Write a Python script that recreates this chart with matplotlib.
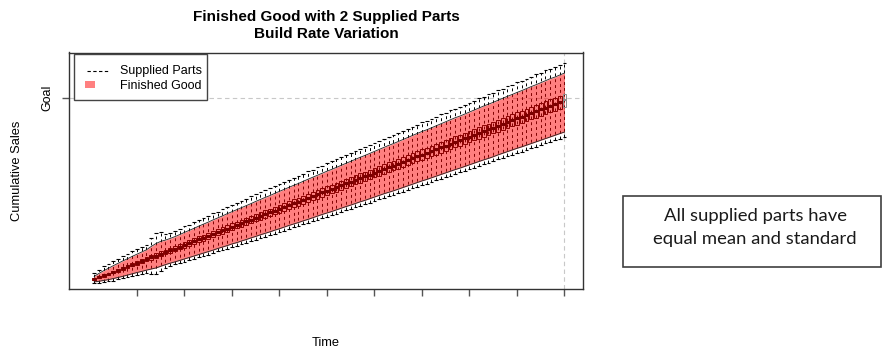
import numpy as np
import matplotlib
matplotlib.use("Agg")
import matplotlib.pyplot as plt
from matplotlib.patches import Rectangle
from matplotlib.lines import Line2D

plt.rcParams['font.family'] = ['Liberation Sans', 'DejaVu Sans']

# ---------------- data ----------------
time = list(range(1, 101))
goal = 100
x_ticks = [10, 20, 30, 40, 50, 60, 70, 80, 90, 100]

# Finished good: median cumulative sales per period
fg_median = [1.0, 2.0, 3.0, 3.9, 4.9, 5.9, 6.9, 7.9, 8.9, 9.9,
             10.8, 11.8, 12.8, 13.8, 14.8, 15.8, 16.8, 17.7, 18.7, 19.7,
             20.7, 21.7, 22.7, 23.6, 24.6, 25.6, 26.6, 27.6, 28.6, 29.6,
             30.5, 31.5, 32.5, 33.5, 34.5, 35.5, 36.5, 37.4, 38.4, 39.4,
             40.4, 41.4, 42.4, 43.3, 44.3, 45.3, 46.3, 47.3, 48.3, 49.3,
             50.2, 51.2, 52.2, 53.2, 54.2, 55.2, 56.2, 57.1, 58.1, 59.1,
             60.1, 61.1, 62.1, 63.0, 64.0, 65.0, 66.0, 67.0, 68.0, 69.0,
             69.9, 70.9, 71.9, 72.9, 73.9, 74.9, 75.9, 76.8, 77.8, 78.8,
             79.8, 80.8, 81.8, 82.7, 83.7, 84.7, 85.7, 86.7, 87.7, 88.7,
             89.6, 90.6, 91.6, 92.6, 93.6, 94.6, 95.6, 96.5, 97.5, 98.5]

# Finished good: half of the box (inter-quartile) height
fg_box_half = [0.4, 0.5, 0.6, 0.7, 0.75, 0.8, 0.85, 0.95, 1.0, 1.05,
               1.1, 1.15, 1.2, 1.25, 1.3, 1.3, 1.35, 1.4, 1.45, 1.5,
               1.5, 1.55, 1.6, 1.6, 1.65, 1.7, 1.7, 1.75, 1.8, 1.8,
               1.85, 1.85, 1.9, 1.9, 1.95, 2.0, 2.0, 2.05, 2.05, 2.1,
               2.1, 2.15, 2.15, 2.2, 2.2, 2.25, 2.25, 2.3, 2.3, 2.35,
               2.35, 2.4, 2.4, 2.45, 2.45, 2.5, 2.5, 2.55, 2.55, 2.6,
               2.6, 2.65, 2.65, 2.7, 2.7, 2.75, 2.75, 2.8, 2.8, 2.85,
               2.85, 2.9, 2.9, 2.95, 2.95, 3.0, 3.0, 3.05, 3.05, 3.1,
               3.1, 3.15, 3.15, 3.2, 3.2, 3.25, 3.25, 3.3, 3.3, 3.35,
               3.35, 3.4, 3.4, 3.4, 3.45, 3.45, 3.5, 3.5, 3.5, 3.5]

# Finished good: band reach above / below the median
fg_upper_spread = [1.5, 2.1, 2.6, 3.0, 3.4, 3.7, 4.0, 4.2, 4.5, 4.7,
                   5.0, 5.2, 6.0, 6.6, 6.8, 6.5, 6.4, 6.5, 6.6, 6.8,
                   6.9, 7.0, 7.2, 7.4, 7.5, 7.7, 7.8, 7.9, 8.1, 8.2,
                   8.4, 8.5, 8.6, 8.7, 8.9, 9.0, 9.1, 9.2, 9.4, 9.5,
                   9.6, 9.7, 9.8, 9.9, 10.1, 10.2, 10.3, 10.4, 10.5, 10.6,
                   10.7, 10.8, 10.9, 11.0, 11.1, 11.2, 11.3, 11.4, 11.5, 11.6,
                   11.7, 11.8, 11.9, 12.0, 12.1, 12.2, 12.3, 12.4, 12.5, 12.6,
                   12.6, 12.7, 12.8, 12.9, 13.0, 13.1, 13.2, 13.2, 13.3, 13.4,
                   13.5, 13.6, 13.7, 13.8, 13.8, 13.9, 14.0, 14.1, 14.1, 14.2,
                   14.3, 14.4, 14.5, 14.5, 14.6, 14.7, 14.8, 14.8, 14.9, 15.0]
fg_lower_spread = [1.5, 2.2, 2.7, 3.2, 3.6, 4.0, 4.4, 4.7, 5.0, 5.3,
                   5.6, 5.9, 6.3, 6.7, 6.8, 6.9, 7.1, 7.3, 7.5, 7.7,
                   7.9, 8.1, 8.3, 8.4, 8.6, 8.8, 8.9, 9.1, 9.3, 9.4,
                   9.6, 9.7, 9.9, 10.0, 10.2, 10.3, 10.5, 10.6, 10.7, 10.9,
                   11.0, 11.1, 11.3, 11.4, 11.5, 11.7, 11.8, 11.9, 12.0, 12.2,
                   12.3, 12.4, 12.5, 12.6, 12.8, 12.9, 13.0, 13.1, 13.2, 13.3,
                   13.4, 13.5, 13.7, 13.8, 13.9, 14.0, 14.1, 14.2, 14.3, 14.4,
                   14.5, 14.6, 14.7, 14.8, 14.9, 15.0, 15.1, 15.2, 15.3, 15.4,
                   15.5, 15.6, 15.7, 15.8, 15.9, 15.9, 16.0, 16.1, 16.2, 16.3,
                   16.4, 16.5, 16.6, 16.7, 16.8, 16.9, 17.0, 17.0, 17.1, 17.2]

# Supplied parts: whisker reach beyond the finished-good band
sp_whisker_above = [1.8, 2.0, 2.3, 2.2, 2.5, 2.4, 2.6, 2.5, 2.8, 2.7,
                    2.9, 2.8, 4.5, 5.5, 5.0, 3.2, 3.0, 3.3, 3.2, 3.4,
                    3.2, 3.5, 3.3, 3.5, 3.4, 3.6, 3.5, 3.7, 3.6, 3.8,
                    3.6, 3.9, 3.7, 4.0, 3.8, 4.0, 3.9, 4.1, 3.9, 4.1,
                    4.0, 4.2, 4.0, 4.3, 4.1, 4.3, 4.2, 4.4, 4.2, 4.4,
                    4.3, 4.5, 4.3, 4.6, 4.4, 4.6, 4.5, 4.7, 4.5, 4.7,
                    4.6, 4.8, 4.6, 4.8, 4.7, 4.9, 4.7, 4.9, 4.8, 5.0,
                    4.8, 5.0, 4.9, 5.1, 4.9, 5.1, 5.0, 5.2, 5.0, 5.2,
                    5.1, 5.3, 5.1, 5.3, 5.2, 5.4, 5.2, 5.4, 5.3, 5.5,
                    5.3, 5.5, 5.4, 5.6, 5.4, 5.6, 5.5, 5.7, 5.5, 5.7]
sp_whisker_below = [0.8, 0.9, 1.0, 1.0, 1.1, 1.1, 1.1, 1.2, 1.2, 1.2,
                    1.3, 1.3, 2.5, 3.2, 2.8, 1.6, 1.4, 1.4, 1.5, 1.5,
                    1.5, 1.5, 1.6, 1.6, 1.6, 1.6, 1.6, 1.7, 1.7, 1.7,
                    1.7, 1.7, 1.8, 1.8, 1.8, 1.8, 1.8, 1.8, 1.9, 1.9,
                    1.9, 1.9, 1.9, 1.9, 1.9, 2.0, 2.0, 2.0, 2.0, 2.0,
                    2.0, 2.1, 2.1, 2.1, 2.1, 2.1, 2.1, 2.1, 2.2, 2.2,
                    2.2, 2.2, 2.2, 2.2, 2.2, 2.2, 2.3, 2.3, 2.3, 2.3,
                    2.3, 2.3, 2.3, 2.3, 2.4, 2.4, 2.4, 2.4, 2.4, 2.4,
                    2.4, 2.4, 2.5, 2.5, 2.5, 2.5, 2.5, 2.5, 2.5, 2.6,
                    2.6, 2.6, 2.6, 2.6, 2.6, 2.6, 2.6, 2.7, 2.7, 2.7]

title_text = "Finished Good with 2 Supplied Parts\nBuild Rate Variation"
note_text = "All supplied parts have\nequal mean and standard"

# ---------------- derived arrays ----------------
t = np.array(time, dtype=float)
med = np.array(fg_median)
half = np.array(fg_box_half)
band_hi = med + np.array(fg_upper_spread)
band_lo = med - np.array(fg_lower_spread)
wsk_hi = band_hi + np.array(sp_whisker_above)
wsk_lo = band_lo - np.array(sp_whisker_below)

W, H = 884, 351
fig = plt.figure(figsize=(W / 100, H / 100), dpi=100)
L, R, T, B = 69, 583, 52.5, 289
ax = fig.add_axes([L / W, (H - B) / H, (R - L) / W, (B - T) / H])
ax.set_xlim(-4.3, 103.9)
ax.set_ylim(-4.4, 124.7)

# reference lines
ax.axhline(goal, color='#c8c8c8', lw=0.8, ls=(0, (4, 3)), zorder=0)
ax.axvline(time[-1], color='#c8c8c8', lw=0.8, ls=(0, (4, 3)), zorder=0)

# supplied parts whiskers (dashed) with caps
ax.vlines(t, wsk_lo, wsk_hi, colors='black', linestyles=(0, (3, 3)), lw=0.7, zorder=1)
ax.hlines(wsk_hi, t - 0.4, t + 0.4, colors='black', lw=0.8, zorder=1)
ax.hlines(wsk_lo, t - 0.4, t + 0.4, colors='black', lw=0.8, zorder=1)

# finished-good band
ax.fill_between(t, band_lo, band_hi, color='red', alpha=0.5, lw=0, zorder=2)
ax.plot(t, band_hi, color='#222222', lw=0.6, zorder=3)
ax.plot(t, band_lo, color='#222222', lw=0.6, zorder=3)

# finished-good boxes
for i in range(len(t)):
    c = '#8B0000' if i < len(t) - 1 else '#8c8c8c'
    ax.add_patch(Rectangle((t[i] - 0.4, med[i] - half[i]), 0.8, 2 * half[i],
                           fill=False, ec=c, lw=0.7, zorder=4))
ax.hlines(med[:-1], t[:-1] - 0.4, t[:-1] + 0.4, colors='#7a0000', lw=2.2, zorder=5)
ax.hlines(med[-1:], t[-1:] - 0.4, t[-1:] + 0.4, colors='#8c8c8c', lw=1.5, zorder=5)

# axes styling
for s in ax.spines.values():
    s.set_color('#333333')
    s.set_linewidth(1.0)
ax.set_xticks(x_ticks)
ax.set_xticklabels([''] * len(x_ticks))
ax.set_yticks([goal])
ax.set_yticklabels(['Goal'], rotation=90, va='center', fontsize=9)
ax.tick_params(axis='both', direction='out', length=5, width=1, color='#555555')
ax.tick_params(axis='y', pad=6)

ax.set_ylabel('Cumulative Sales', fontsize=9.3, va='center')
ax.yaxis.set_label_coords((17 - L) / (R - L), 0.5)
ax.set_xlabel('Time', fontsize=9.3, va='center')
ax.xaxis.set_label_coords(0.5, (B - 342.7) / (B - T))

fig.text((L + R) / 2 / W, 1 - 25.5 / H, title_text, ha='center', va='center',
         fontsize=11, fontweight='bold', linespacing=1.3)

# legend drawn in axes-fraction coordinates
def fx(px):
    return (px - L) / (R - L)

def fy(py):
    return (B - py) / (B - T)

ax.add_patch(Rectangle((fx(74.3), fy(100)), fx(206.7) - fx(74.3), fy(54.5) - fy(100),
                       transform=ax.transAxes, fill=True, fc='white', ec='#444444', lw=1.0, zorder=6))
ax.add_line(Line2D([fx(87), fx(110)], [fy(71), fy(71)], transform=ax.transAxes,
                   color='black', lw=0.8, ls=(0, (3, 2.2)), zorder=7))
ax.add_patch(Rectangle((fx(85), fy(87.7)), fx(95) - fx(85), fy(81) - fy(87.7),
                       transform=ax.transAxes, fc='#ff8080', ec='none', zorder=7))
ax.text(fx(120), fy(71), 'Supplied Parts', transform=ax.transAxes, fontsize=9,
        ha='left', va='center', zorder=7)
ax.text(fx(120), fy(85.7), 'Finished Good', transform=ax.transAxes, fontsize=9,
        ha='left', va='center', zorder=7)

# note box on the right
fig.add_artist(Rectangle((622.7 / W, (H - 267.3) / H), (881 - 622.7) / W, (267.3 - 195.7) / H,
                         transform=fig.transFigure, fill=False, ec='#404040', lw=1.2))
fig.text(755 / W, 1 - 227.5 / H, note_text, ha='center', va='center', fontsize=13.3,
         family=['Lato', 'DejaVu Sans'], color='#1a1a1a', linespacing=1.5)

fig.savefig('out.png', dpi=100)
